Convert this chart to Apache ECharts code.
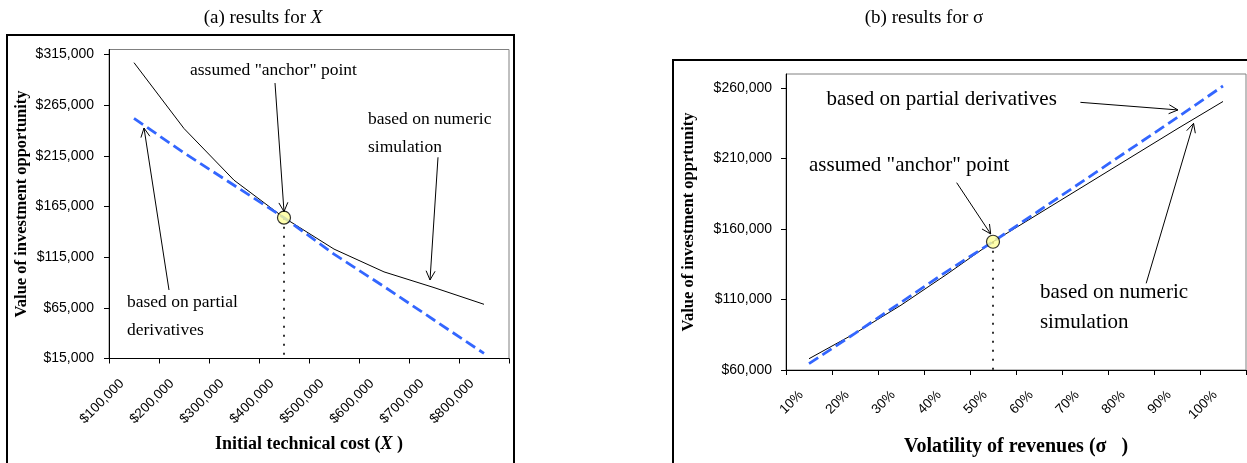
<!DOCTYPE html>
<html><head><meta charset="utf-8">
<script src="https://cdn.jsdelivr.net/npm/echarts@6/dist/echarts.min.js"></script>
<style>html,body{margin:0;padding:0;background:#fff}#c{width:1247px;height:463px}</style>
</head><body><div id="c"></div>
<script>
// ---------- data: (a) results for X ----------
const costCategories = ['$100,000', '$200,000', '$300,000', '$400,000', '$500,000', '$600,000', '$700,000', '$800,000'];
const costSimulation = [307000, 242000, 191000, 154000, 123000, 100500, 85000, 68500];
const costPartial = [252000, 218000, 186000, 154000, 118000, 86000, 53000, 20000];
const costAnchorCategory = '$400,000';
const costAnchorValue = 154000;
const costTicks = [15000, 65000, 115000, 165000, 215000, 265000, 315000];
const costMin = 15000, costMax = 320000;

// ---------- data: (b) results for sigma ----------
const volCategories = ['10%', '20%', '30%', '40%', '50%', '60%', '70%', '80%', '90%', '100%'];
const volSimulation = [68000, 86000, 106000, 128000, 151000, 171000, 191000, 211000, 231000, 250500];
const volPartial = [64500, 86000, 108000, 130000, 151000, 173000, 195000, 217000, 239000, 261500];
const volAnchorCategory = '50%';
const volAnchorValue = 151000;
const volTicks = [60000, 110000, 160000, 210000, 260000];
const volMin = 60000, volMax = 270000;

// ---------- annotations (category index, value) ----------
const costNotes = [
  { text: 'assumed "anchor" point', at: [1.12, 299300] },
  { text: 'based on numeric', at: [4.68, 250900] },
  { text: 'simulation', at: [4.68, 223300] },
  { text: 'based on partial', at: [-0.14, 70300] },
  { text: 'derivatives', at: [-0.14, 42600] }
];
const costArrows = [
  { from: [2.82, 286900], to: [3.0, 160000] },
  { from: [6.08, 213600], to: [5.92, 92500] },
  { from: [0.70, 82600], to: [0.20, 242500] }
];
const volNotes = [
  { text: 'based on partial derivatives', at: [0.38, 251600] },
  { text: 'assumed "anchor" point', at: [0.0, 205400] },
  { text: 'based on numeric', at: [5.02, 115000] },
  { text: 'simulation', at: [5.02, 93700] }
];
const volArrows = [
  { from: [5.90, 249900], to: [8.02, 244500] },
  { from: [3.21, 192900], to: [3.95, 156500] },
  { from: [7.33, 121500], to: [8.36, 235000] }
];

const SERIF = '"Liberation Serif", "Times New Roman", serif';
const SANS = '"Liberation Sans", Arial, sans-serif';
const money = v => '$' + v.toLocaleString('en-US');

function xAxisCfg(gridIndex, cats, nameRich, name, nameSize, nameGap, lblMargin, lblPad) {
  return {
    type: 'category', gridIndex, data: cats, boundaryGap: true,
    axisLine: { lineStyle: { color: '#000', width: 1 } },
    axisTick: { show: true, length: 5, lineStyle: { color: '#000' } },
    axisLabel: { interval: 0, rotate: 45, margin: lblMargin, padding: [0, lblPad, 0, 0],
      fontFamily: SANS, fontSize: 13.5, color: '#000' },
    splitLine: { show: false },
    name, nameLocation: 'middle', nameGap,
    nameTextStyle: { fontFamily: SERIF, fontSize: nameSize, fontWeight: 'bold', color: '#000', rich: nameRich }
  };
}
function yAxisCfg(gridIndex, min, max, ticks, name, nameGap, margin) {
  return {
    type: 'value', gridIndex, min, max,
    axisLine: { show: true, lineStyle: { color: '#000', width: 1 } },
    axisTick: { show: true, length: 5, customValues: ticks, lineStyle: { color: '#000' } },
    axisLabel: { customValues: ticks, formatter: money, margin, fontFamily: SANS, fontSize: 14, color: '#000' },
    splitLine: { show: false },
    name, nameLocation: 'middle', nameRotate: 90, nameGap, nameMoveOverlap: false,
    nameTextStyle: { fontFamily: SERIF, fontSize: 16.5, fontWeight: 'bold', color: '#000' }
  };
}
function anchorSeries(xi, yi, cat, val, minV) {
  return {
    type: 'scatter', xAxisIndex: xi, yAxisIndex: yi, z: 20,
    data: [[cat, val]], symbol: 'circle', symbolSize: 13,
    itemStyle: { color: '#FFFF99', borderColor: '#000', borderWidth: 1.2 },
    markLine: {
      silent: true, symbol: 'none', z: 1, label: { show: false },
      lineStyle: { color: '#000', width: 1.6, type: [2, 7] },
      data: [[{ coord: [cat, val] }, { coord: [cat, minV] }]]
    }
  };
}
const blueStyle = { color: '#3366FF', width: 2.8, type: [11, 5] };
const blackStyle = { color: '#000', width: 1 };

const chart = echarts.init(document.getElementById('c'));
chart.setOption({
  animation: false,
  backgroundColor: '#fff',
  grid: [
    { left: 109, top: 49.5, width: 400, height: 309, containLabel: false, outerBoundsMode: 'none',
      show: true, backgroundColor: '#fff', borderColor: '#808080', borderWidth: 1 },
    { left: 786, top: 74, width: 460, height: 296, containLabel: false, outerBoundsMode: 'none',
      show: true, backgroundColor: '#fff', borderColor: '#808080', borderWidth: 1 }
  ],
  xAxis: [
    xAxisCfg(0, costCategories,
      { i: { fontFamily: SERIF, fontSize: 18, fontWeight: 'bold', fontStyle: 'italic', color: '#000' } },
      'Initial technical cost ({i|X} )', 18, 77, 11, 17),
    xAxisCfg(1, volCategories, {}, 'Volatility of revenues (σ   )', 20, 67, 15, 11)
  ],
  yAxis: [
    yAxisCfg(0, costMin, costMax, costTicks, 'Value of investment opportunity', 79, 15),
    yAxisCfg(1, volMin, volMax, volTicks, 'Value of investment opprtunity', 89, 14)
  ],
  series: [
    { type: 'line', xAxisIndex: 0, yAxisIndex: 0, data: costSimulation, symbol: 'none', lineStyle: blackStyle, z: 3 },
    { type: 'line', xAxisIndex: 0, yAxisIndex: 0, data: costPartial, symbol: 'none', lineStyle: blueStyle, z: 4 },
    anchorSeries(0, 0, costAnchorCategory, costAnchorValue, costMin),
    { type: 'line', xAxisIndex: 1, yAxisIndex: 1, data: volSimulation, symbol: 'none', lineStyle: blackStyle, z: 3 },
    { type: 'line', xAxisIndex: 1, yAxisIndex: 1, data: volPartial, symbol: 'none', lineStyle: blueStyle, z: 4 },
    anchorSeries(1, 1, volAnchorCategory, volAnchorValue, volMin)
  ]
});

// ---------- annotations placed through the chart's own scales ----------
function makeMapper(gridIndex, cats) {
  return function (idx, val) {
    const p0 = chart.convertToPixel({ gridIndex }, [cats[0], val]);
    const p1 = chart.convertToPixel({ gridIndex }, [cats[1], val]);
    return [p0[0] + idx * (p1[0] - p0[0]), p0[1]];
  };
}
function arrowEls(p, q) {
  const dx = q[0] - p[0], dy = q[1] - p[1], len = Math.hypot(dx, dy);
  const ux = dx / len, uy = dy / len, hl = 9, hw = 4.5;
  const b = [q[0] - ux * hl, q[1] - uy * hl];
  const l = [b[0] - uy * hw, b[1] + ux * hw], r = [b[0] + uy * hw, b[1] - ux * hw];
  return [
    { type: 'line', z: 100, shape: { x1: p[0], y1: p[1], x2: q[0], y2: q[1] }, style: { stroke: '#000', lineWidth: 1 } },
    { type: 'polyline', z: 100, shape: { points: [l, q, r] }, style: { stroke: '#000', lineWidth: 1, fill: null } }
  ];
}
function noteEl(p, text, size) {
  return { type: 'text', z: 100, x: p[0], y: p[1],
    style: { text, fill: '#000', font: size + 'px ' + SERIF, align: 'left', verticalAlign: 'middle' } };
}
const els = [];
const mA = makeMapper(0, costCategories), mB = makeMapper(1, volCategories);
costNotes.forEach(n => els.push(noteEl(mA(n.at[0], n.at[1]), n.text, 17.5)));
costArrows.forEach(a => els.push(...arrowEls(mA(a.from[0], a.from[1]), mA(a.to[0], a.to[1]))));
volNotes.forEach(n => els.push(noteEl(mB(n.at[0], n.at[1]), n.text, 21)));
volArrows.forEach(a => els.push(...arrowEls(mB(a.from[0], a.from[1]), mB(a.to[0], a.to[1]))));
// panel captions
els.push({ type: 'text', z: 100, x: 263, y: 18,
  style: { text: '(a) results for {i|X}', fill: '#000', font: '19px ' + SERIF, align: 'center', verticalAlign: 'middle',
    rich: { i: { fontFamily: SERIF, fontSize: 19, fontStyle: 'italic', fill: '#000' } } } });
els.push({ type: 'text', z: 100, x: 924, y: 18,
  style: { text: '(b) results for σ', fill: '#000', font: '19px ' + SERIF, align: 'center', verticalAlign: 'middle' } });
// outer frames of the two panels
els.push({ type: 'rect', z: 0, shape: { x: 7, y: 35, width: 507, height: 450 }, style: { stroke: '#000', lineWidth: 2, fill: null } });
els.push({ type: 'rect', z: 0, shape: { x: 673, y: 60, width: 600, height: 450 }, style: { stroke: '#000', lineWidth: 2, fill: null } });
chart.setOption({ graphic: els });
</script></body></html>
